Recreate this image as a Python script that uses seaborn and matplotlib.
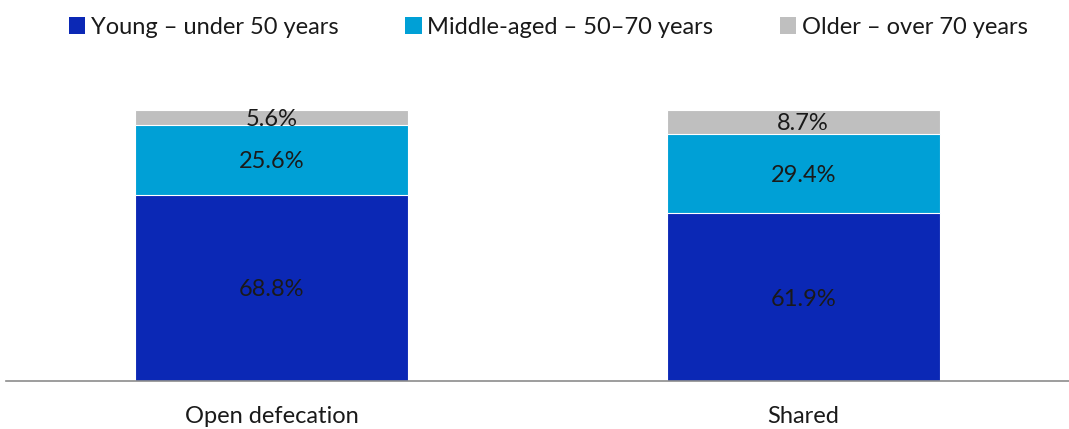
import matplotlib
matplotlib.use("Agg")
import matplotlib.pyplot as plt
from matplotlib.patches import Patch
import numpy as np
import pandas as pd
import seaborn as sns

categories = ["Open defecation", "Shared"]
young = [68.8, 61.9]
middle = [25.6, 29.4]
older = [5.6, 8.7]
series_names = ["Young \u2013 under 50 years", "Middle-aged \u2013 50\u201370 years", "Older \u2013 over 70 years"]
colors = ["#0B28B5", "#00A0D6", "#BFBFBF"]

sns.set_theme(style="white")
plt.rcParams["font.family"] = ["Lato", "DejaVu Sans"]

fig = plt.figure(figsize=(10.69, 4.29), dpi=100)
ax = fig.add_axes([6 / 1069, 1 - 381 / 429, 1 - 6 / 1069, (381 - 110) / 429])

df = pd.DataFrame({"category": categories, "young": young, "middle": middle, "older": older})
df["c1"] = df["young"]
df["c2"] = df["young"] + df["middle"]
df["c3"] = df["c2"] + df["older"]

# stacked bars drawn as cumulative totals, tallest first
for col, color in zip(["c3", "c2", "c1"], colors[::-1]):
    sns.barplot(data=df, x="category", y=col, color=color, width=0.513,
                saturation=1, ax=ax, edgecolor="white", linewidth=0.8)

# value labels centred in each segment
for i in range(len(categories)):
    bottoms = [0, df["c1"][i], df["c2"][i]]
    vals = [young[i], middle[i], older[i]]
    for b, v in zip(bottoms, vals):
        ax.text(i, b + v / 2, f"{v:.1f}%", ha="center", va="center_baseline",
                fontsize=17, color="#1a1a1a")

ax.set_xlim(-0.5, 1.5)
ax.set_ylim(0, 100)
ax.set_xlabel("")
ax.set_ylabel("")
ax.set_yticks([])
ax.tick_params(axis="x", length=0, labelsize=17, colors="#1a1a1a", pad=18)
for s in ["top", "right", "left"]:
    ax.spines[s].set_visible(False)
ax.spines["bottom"].set_color("#8c8c8c")
ax.spines["bottom"].set_linewidth(1.2)

handles = [Patch(facecolor=c, edgecolor="none") for c in colors]
fig.legend(handles, series_names, loc="upper center", bbox_to_anchor=(0.513, 1.01),
           ncol=3, frameon=False, fontsize=17, handlelength=0.7, handleheight=0.7,
           handletextpad=0.25, columnspacing=2.8, labelcolor="#1a1a1a")

fig.savefig("out.png", dpi=100)
